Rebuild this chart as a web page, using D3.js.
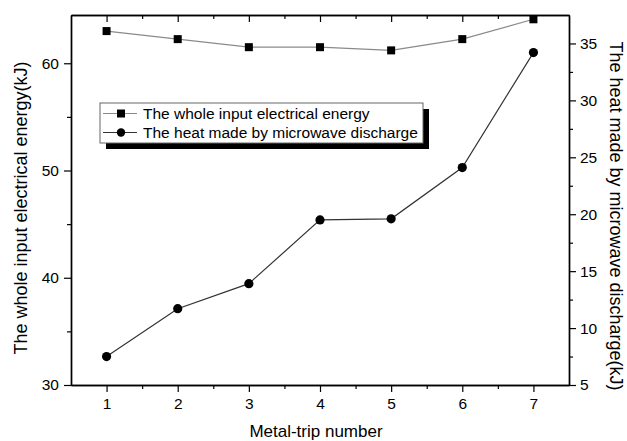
<!DOCTYPE html>
<html>
<head>
<meta charset="utf-8">
<script src="https://cdn.jsdelivr.net/npm/d3@7"></script>
<style>
  body { margin: 0; background: #fff; }
  svg { font-family: "Liberation Sans", Arial, sans-serif; }
  .axis path, .axis line { stroke: #000; }
</style>
</head>
<body>
<div id="chart"></div>
<script>
const svgWidth = 627;
const svgHeight = 441;
const margin = { top: 15, right: 58, bottom: 56, left: 71 };

const tripNumbers = [1, 2, 3, 4, 5, 6, 7];
const inputEnergy = [63.0, 62.25, 61.5, 61.5, 61.2, 62.25, 64.1];
const dischargeHeat = [7.5, 11.7, 13.9, 19.5, 19.6, 24.1, 34.2];

const xTicks = [1, 2, 3, 4, 5, 6, 7];
const leftTicks = [30, 40, 50, 60];
const rightTicks = [5, 10, 15, 20, 25, 30, 35];

const seriesNames = ["The whole input electrical energy", "The heat made by microwave discharge"];

const svg = d3.select("#chart")
  .append("svg")
  .attr("width", svgWidth)
  .attr("height", svgHeight);

const plotWidth = svgWidth - margin.left - margin.right;
const plotHeight = svgHeight - margin.top - margin.bottom;

const plot = svg.append("g").attr("transform", `translate(${margin.left},${margin.top})`);

const xScale = d3.scaleLinear().domain([0.5, 7.5]).range([0, plotWidth]);
const yLeft = d3.scaleLinear().domain([30, 64.5]).range([plotHeight, 0]);
const yRight = d3.scaleLinear().domain([5, 37.5]).range([plotHeight, 0]);

// minor ticks
const xMinor = d3.range(1.5, 7.5, 1);
const leftMinor = [35, 45, 55];
const rightMinor = [7.5, 12.5, 17.5, 22.5, 27.5, 32.5];

function styleAxis(g) {
  g.selectAll("text").attr("font-size", "15.5px").attr("fill", "#000");
  g.select(".domain").attr("stroke-width", 1.4);
  g.selectAll("line").attr("stroke-width", 1.2);
}

// bottom
plot.append("g").attr("class", "axis")
  .attr("transform", `translate(0,${plotHeight})`)
  .call(d3.axisBottom(xScale).tickValues(xTicks).tickSize(7).tickPadding(6).tickSizeOuter(0).tickFormat(d3.format("d")))
  .call(styleAxis);
plot.append("g").attr("class", "axis")
  .attr("transform", `translate(0,${plotHeight})`)
  .call(d3.axisBottom(xScale).tickValues(xMinor).tickSize(4).tickSizeOuter(0).tickFormat(""))
  .call(styleAxis);

// top (inward)
plot.append("g").attr("class", "axis")
  .call(d3.axisBottom(xScale).tickValues(xTicks).tickSize(7).tickSizeOuter(0).tickFormat(""))
  .call(styleAxis);
plot.append("g").attr("class", "axis")
  .call(d3.axisBottom(xScale).tickValues(xMinor).tickSize(4).tickSizeOuter(0).tickFormat(""))
  .call(styleAxis);

// left
plot.append("g").attr("class", "axis")
  .call(d3.axisLeft(yLeft).tickValues(leftTicks).tickSize(7).tickPadding(5).tickSizeOuter(0))
  .call(styleAxis);
plot.append("g").attr("class", "axis")
  .call(d3.axisLeft(yLeft).tickValues(leftMinor).tickSize(4).tickSizeOuter(0).tickFormat(""))
  .call(styleAxis);

// right
plot.append("g").attr("class", "axis")
  .attr("transform", `translate(${plotWidth},0)`)
  .call(d3.axisRight(yRight).tickValues(rightTicks).tickSize(7).tickPadding(4).tickSizeOuter(0))
  .call(styleAxis);
plot.append("g").attr("class", "axis")
  .attr("transform", `translate(${plotWidth},0)`)
  .call(d3.axisRight(yRight).tickValues(rightMinor).tickSize(4).tickSizeOuter(0).tickFormat(""))
  .call(styleAxis);

// axis titles
svg.append("text")
  .attr("x", 316)
  .attr("y", 437)
  .attr("text-anchor", "middle")
  .attr("font-size", "17px")
  .text("Metal-trip number");

svg.append("text")
  .attr("transform", `translate(27,208) rotate(-90)`)
  .attr("text-anchor", "middle")
  .attr("font-size", "18px")
  .text("The whole input electrical energy(kJ)");

svg.append("text")
  .attr("transform", `translate(610,216) rotate(90)`)
  .attr("text-anchor", "middle")
  .attr("font-size", "18px")
  .text("The heat made by microwave discharge(kJ)");

// series
const energyLine = d3.line().x((d, i) => xScale(tripNumbers[i])).y((d) => yLeft(d));
const heatLine = d3.line().x((d, i) => xScale(tripNumbers[i])).y((d) => yRight(d));

plot.append("path")
  .datum(inputEnergy)
  .attr("fill", "none")
  .attr("stroke", "#8a8a8a")
  .attr("stroke-width", 1.2)
  .attr("d", energyLine);

plot.append("path")
  .datum(dischargeHeat)
  .attr("fill", "none")
  .attr("stroke", "#333")
  .attr("stroke-width", 1.2)
  .attr("d", heatLine);

plot.selectAll("rect.sq")
  .data(inputEnergy)
  .join("rect")
  .attr("class", "sq")
  .attr("x", (d, i) => xScale(tripNumbers[i]) - 4)
  .attr("y", (d) => yLeft(d) - 4)
  .attr("width", 8)
  .attr("height", 8)
  .attr("fill", "#000");

plot.selectAll("circle.dot")
  .data(dischargeHeat)
  .join("circle")
  .attr("class", "dot")
  .attr("cx", (d, i) => xScale(tripNumbers[i]))
  .attr("cy", (d) => yRight(d))
  .attr("r", 4.6)
  .attr("fill", "#000");

// legend
const legend = svg.append("g").attr("transform", "translate(100,103)");
legend.append("rect").attr("x", 6).attr("y", 6).attr("width", 323).attr("height", 40).attr("fill", "#000");
legend.append("rect").attr("x", 0).attr("y", 0).attr("width", 323).attr("height", 40)
  .attr("fill", "#fff").attr("stroke", "#666").attr("stroke-width", 1);

seriesNames.forEach((name, i) => {
  const cy = 10.5 + i * 19;
  const row = legend.append("g");
  row.append("line").attr("x1", 3).attr("x2", 37).attr("y1", cy).attr("y2", cy)
    .attr("stroke", i === 0 ? "#8a8a8a" : "#333").attr("stroke-width", 1.2);
  if (i === 0) {
    row.append("rect").attr("x", 17).attr("y", cy - 4).attr("width", 8).attr("height", 8).attr("fill", "#000");
  } else {
    row.append("circle").attr("cx", 21).attr("cy", cy).attr("r", 4.2).attr("fill", "#000");
  }
  row.append("text").attr("x", 43).attr("y", cy + 5.5).attr("font-size", "15.5px").text(name);
});
</script>
</body>
</html>
